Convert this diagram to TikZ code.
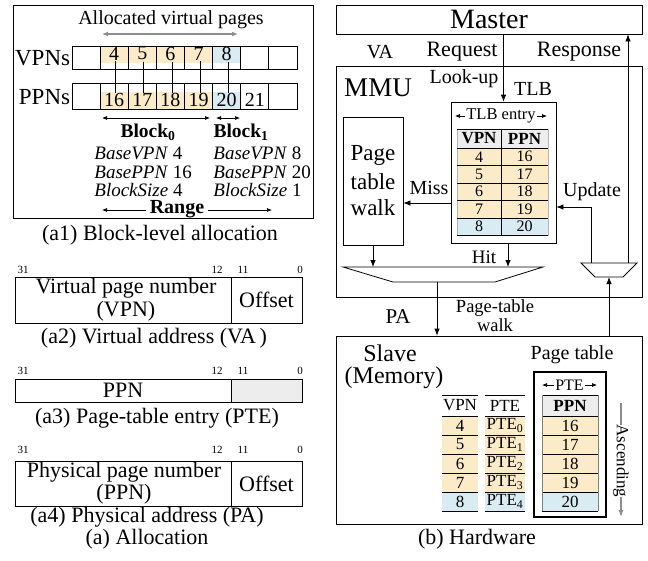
\documentclass[tikz,border=0pt]{standalone}
\usepackage{fontspec}
\setmainfont{Liberation Serif}
\usetikzlibrary{arrows.meta}
\definecolor{yel}{HTML}{FCEBC9}
\definecolor{blu}{HTML}{D9EBF3}
\definecolor{hdr}{HTML}{EDEDED}
\definecolor{gar}{HTML}{8C8C8C}
\newcommand\myfs[1]{\fontsize{#1}{#1}\selectfont}
\tikzset{
  lbl/.style={inner sep=0pt, font=\myfs{#1}},
  lbl/.default=22,
  box/.style={draw, inner sep=0pt, line width=0.8pt},
  arr/.style={-{Latex[length=7pt,width=5.5pt]}, line width=0.8pt},
  darr/.style={{Latex[length=5pt,width=4pt]}-{Latex[length=5pt,width=4pt]}, line width=0.7pt},
  garr/.style={{Latex[length=6pt,width=5pt]}-{Latex[length=6pt,width=5pt]}, line width=1.3pt, gar},
}
\begin{document}
\begin{tikzpicture}[x=1pt,y=-1pt,line width=0.8pt]
\useasboundingbox (0,0) rectangle (648,560);

% ---------------- (a1) ----------------
\node[box, minimum width=300pt, minimum height=213pt] (a1box) at (163,111.5) {};
\node[lbl=20] (alloc) at (171,20) {Allocated virtual pages};
\coordinate (ga) at (102,34); \coordinate (gb) at (238,34);
\draw[garr] (ga) -- (gb);
\fill[yel] (100,46) rectangle (212,63);
\fill[blu] (212,46) rectangle (240.3,63);
\fill[yel] (100,91.5) rectangle (212,109.3);
\fill[blu] (212,91.5) rectangle (240.3,109.3);
\foreach \i in {0,...,7} {
  \pgfmathsetmacro\cx{86.06+28.125*\i}
  \node[box, minimum width=28.125pt, minimum height=23.3pt] (vc\i) at (\cx,57.7) {};
  \node[box, minimum width=28.125pt, minimum height=26pt] (pc\i) at (\cx,96.3) {};
}
\node[lbl=23, anchor=east] (vpns) at (70.5,58) {VPNs};
\node[lbl=23, anchor=east] (ppns) at (70.5,97) {PPNs};
\foreach \v/\p/\k in {4/16/1,5/17/2,6/18/3,7/19/4,8/20/5} {
  \pgfmathsetmacro\cx{86.06+28.125*\k}
  \node[lbl=20] (vn\v) at (\cx,53.5) {\v};
  \node[lbl=20] (pn\p) at (\cx,100) {\p};
  \draw[line width=0.7pt] (vn\v.south) ++(1.5,1) coordinate (lt\v) -- (lt\v |- pn\p.north);
}
\node[lbl=20] (pn21) at (254.8,100) {21};
\coordinate (b0a) at (102,118); \coordinate (b0b) at (210,118);
\coordinate (b1a) at (216,118); \coordinate (b1b) at (240,118);
\draw[darr] (b0a) -- (b0b);
\draw[darr] (b1a) -- (b1b);
\node[lbl=19.5] (blk0) at (148,132.5) {\textbf{Block\textsubscript{0}}};
\node[lbl=19.5] (blk1) at (241,132.5) {\textbf{Block\textsubscript{1}}};
\node[lbl=19, anchor=west] (bv0) at (94,153.5) {\textit{BaseVPN} 4};
\node[lbl=19, anchor=west] (bp0) at (94,172) {\textit{BasePPN} 16};
\node[lbl=19, anchor=west] (bs0) at (94,190) {\textit{BlockSize} 4};
\node[lbl=19, anchor=west] (bv1) at (213,153.5) {\textit{BaseVPN} 8};
\node[lbl=19, anchor=west] (bp1) at (213,172) {\textit{BasePPN} 20};
\node[lbl=19, anchor=west] (bs1) at (213,190) {\textit{BlockSize} 1};
\node[lbl=20] (range) at (177,209.5) {\textbf{Range}};
\coordinate (ra) at (102,210); \coordinate (rb) at (272,210);
\draw[-{Latex[length=5pt,width=4pt]}, line width=0.7pt] (range.west |- ra) ++(-3,0) -- (ra);
\draw[-{Latex[length=5pt,width=4pt]}, line width=0.7pt] (range.east |- rb) ++(3,0) -- (rb);
\node[lbl=22] (cap1) at (160,235) {(a1) Block-level allocation};

% ---------------- (a2) ----------------
\node[lbl=11] (a2n31) at (23,270) {31};
\node[lbl=11] (a2n12) at (217,270) {12};
\node[lbl=11] (a2n11) at (243,270) {11};
\node[lbl=11] (a2n0) at (300,270) {0};
\node[box, minimum width=216pt, minimum height=46pt] (vaf) at (123,300) {};
\node[box, minimum width=71pt, minimum height=46pt] (vao) at (266.5,300) {};
\node[lbl=22] (vat1) at (126,288) {Virtual page number};
\node[lbl=22] (vat2) at (126,311) {(VPN)};
\node[lbl=22] (vat3) at (vao) {Offset};
\node[lbl=22] (cap2) at (154,338) {(a2) Virtual address (VA\,)};

% ---------------- (a3) ----------------
\node[lbl=11] (a3n31) at (23,371) {31};
\node[lbl=11] (a3n12) at (217,371) {12};
\node[lbl=11] (a3n11) at (243,371) {11};
\node[lbl=11] (a3n0) at (300,371) {0};
\node[box, minimum width=216pt, minimum height=23pt] (ptef) at (123,390.5) {};
\node[box, fill=hdr, minimum width=71pt, minimum height=23pt] (pteo) at (266.5,390.5) {};
\node[lbl=22] (ptet) at (123,390.5) {PPN};
\node[lbl=22] (cap3) at (157,418) {(a3) Page-table entry (PTE)};

% ---------------- (a4) ----------------
\node[lbl=11] (a4n31) at (23,450) {31};
\node[lbl=11] (a4n12) at (217,450) {12};
\node[lbl=11] (a4n11) at (243,450) {11};
\node[lbl=11] (a4n0) at (300,450) {0};
\node[box, minimum width=216pt, minimum height=45pt] (paf) at (123,483.5) {};
\node[box, minimum width=71pt, minimum height=45pt] (pao) at (266.5,483.5) {};
\node[lbl=22] (pat1) at (124,472) {Physical page number};
\node[lbl=22] (pat2) at (124,494) {(PPN)};
\node[lbl=22] (pat3) at (pao) {Offset};
\node[lbl=22] (cap4) at (147,517) {(a4) Physical address (PA)};
\node[lbl=22] (capa) at (147,539) {(a) Allocation};

% ---------------- (b) Hardware ----------------
\node[box, minimum width=306pt, minimum height=29pt, font=\myfs{28}] (master) at (489,19.5) {Master};
\node[box, minimum width=306pt, minimum height=231pt] (mmu) at (489,181.5) {};
\node[box, minimum width=306pt, minimum height=188pt] (slave) at (489,430) {};
\node[lbl=20] (vaL) at (380,52) {VA};
\node[lbl=22] (reqL) at (462,52) {Request};
\node[lbl=22] (resL) at (579,52) {Response};
\node[lbl=27] (mmuL) at (378,88) {MMU};
\node[lbl=20] (lookL) at (464,79) {Look-up};
\node[lbl=20] (tlbL) at (533,89) {TLB};

% TLB
\node[box, minimum width=105pt, minimum height=141pt] (tlb) at (503.5,172.5) {};
\coordinate (te1) at (455,116); \coordinate (te2) at (547,116);
\draw[darr] (te1) -- (te2);
\node[lbl=16.5, fill=white, inner xsep=1pt] (teL) at (501,116) {TLB entry};
\fill[hdr] (457,129) rectangle (548,148);
\fill[yel] (457,148) rectangle (548,218);
\fill[blu] (457,218) rectangle (548,235.5);
\draw[line width=0.6pt, gray!60] (457,129) -- (457,235.5);
\draw[line width=0.6pt, gray!60] (548,129) -- (548,235.5);
\foreach \yy in {129,148,165.5,183,200.5,218,235.5} {
  \draw[line width=0.8pt] (457,\yy) -- (548,\yy);
}
\draw[line width=0.8pt] (501,129) -- (501,235.5);
\node[lbl=17] (thv) at (479,138.5) {\textbf{VPN}};
\node[lbl=17] (thp) at (524.5,138.5) {\textbf{PPN}};
\foreach \v/\p/\r in {4/16/0,5/17/1,6/18/2,7/19/3,8/20/4} {
  \pgfmathsetmacro\yy{156.75+17.5*\r}
  \node[lbl=16] (tv\v) at (479,\yy) {\v};
  \node[lbl=16] (tp\p) at (524.5,\yy) {\p};
}

% page table walk
\node[box, minimum width=60pt, minimum height=128pt] (walk) at (373,181) {};
\node[lbl=23] (walkL1) at (373,155) {Page};
\node[lbl=23] (walkL2) at (373,182) {table};
\node[lbl=23] (walkL3) at (373,208) {walk};

% request / miss / hit
\draw[arr] (master.south -| tlb.north) -- (tlb.north);
\coordinate (missy) at (0,203);
\draw[arr] (tlb.west |- missy) -- (walk.east |- missy);
\node[lbl=20] (missL) at (429,188) {Miss};

% mux 1
\coordinate (m1a) at (343,267); \coordinate (m1b) at (543,267);
\coordinate (m1c) at (495,282); \coordinate (m1d) at (393,282);
\draw[line width=0.8pt] (m1a) -- (m1b) -- (m1c) -- (m1d) -- cycle;
\coordinate (hitx) at (508,0);
\draw[arr] (tlb.south -| hitx) -- (m1a -| hitx);
\node[lbl=19] (hitL) at (484,257) {Hit};
\draw[arr] (walk.south) -- (m1a -| walk.south);
\coordinate (m1out) at (437,282);
\draw[arr] (m1out) -- (m1out |- slave.north);
\node[lbl=21] (paL) at (398,317) {PA};
\node[lbl=18.5] (ptwL1) at (495,308) {Page-table};
\node[lbl=18.5] (ptwL2) at (495,325) {walk};

% mux 2
\coordinate (m2a) at (581,263); \coordinate (m2b) at (637,263);
\coordinate (m2c) at (623,277); \coordinate (m2d) at (595,277);
\draw[line width=0.8pt] (m2a) -- (m2b) -- (m2c) -- (m2d) -- cycle;
\coordinate (m2in) at (609,277);
\draw[arr] (m2in |- slave.north) -- (m2in);
\coordinate (updx) at (591,263);
\coordinate (updy) at (0,207);
\draw[arr] (updx) -- (updx |- updy) -- (tlb.east |- updy);
\node[lbl=20] (updL) at (592,192) {Update};
\coordinate (resx) at (628,263);
\draw[arr] (resx) -- (resx |- master.south);

% slave
\node[lbl=24] (slaveL1) at (390,353) {Slave};
\node[lbl=24] (slaveL2) at (394,378) {(Memory)};
\node[lbl=20] (ptL) at (572,355) {Page table};
\node[draw, line width=2.2pt, inner sep=0pt, minimum width=72pt, minimum height=145pt] (ptbox) at (570,444.5) {};
\coordinate (pe1) at (542,385); \coordinate (pe2) at (597,385);
\draw[darr] (pe1) -- (pe2);
\node[lbl=16, fill=white, inner xsep=1pt] (peL) at (569.5,385) {PTE};

% VPN / PTE columns
\fill[yel] (442,416) rectangle (478,492);
\fill[blu] (442,492) rectangle (478,511);
\fill[yel] (485,416) rectangle (525,492);
\fill[blu] (485,492) rectangle (525,511);
\fill[hdr] (542,395) rectangle (598,416);
\fill[yel] (542,416) rectangle (598,492);
\fill[blu] (542,492) rectangle (598,511);
\foreach \yy in {395,416,435,454,473,492,511} {
  \draw[line width=0.8pt] (442,\yy) -- (478,\yy);
  \draw[line width=0.8pt] (485,\yy) -- (525,\yy);
  \draw[line width=0.8pt] (542,\yy) -- (598,\yy);
}
\draw[line width=0.6pt, gray] (542,395) -- (542,511);
\draw[line width=0.6pt, gray] (598,395) -- (598,511);
\node[lbl=17] (shv) at (460,405.5) {VPN};
\node[lbl=17] (shp) at (505,405.5) {PTE};
\node[lbl=17] (shq) at (570,405.5) {\textbf{PPN}};
\foreach \v/\p/\r in {4/16/0,5/17/1,6/18/2,7/19/3,8/20/4} {
  \pgfmathsetmacro\yy{425.5+19*\r}
  \node[lbl=17] (sv\v) at (460,\yy) {\v};
  \node[lbl=17] (se\r) at (505,\yy) {PTE\textsubscript{\r}};
  \node[lbl=17] (sp\p) at (570,\yy) {\p};
}

% ascending
\coordinate (as1) at (621,403); \coordinate (as2) at (621,517);
\draw[-{Latex[length=7pt,width=5pt]}, line width=1.1pt, gar] (as1) -- (as2);
\node[lbl=17, fill=white, inner ysep=1pt, rotate=-90] (ascL) at (621,461) {Ascending};

\node[lbl=22] (capb) at (477,539) {(b) Hardware};
\end{tikzpicture}
\end{document}
